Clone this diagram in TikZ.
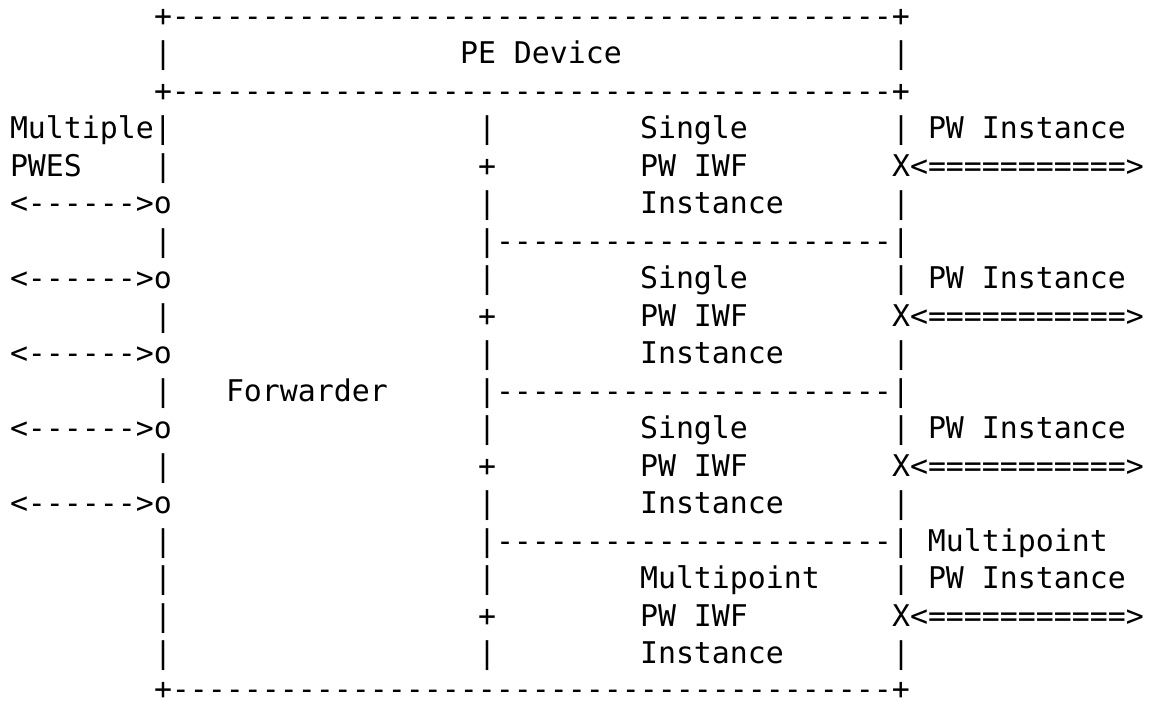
\documentclass[tikz,border=0pt]{standalone}
\usepackage{fontspec}
\setmonofont{DejaVu Sans Mono}
\tikzset{
  txt/.style={anchor=base west, inner sep=0pt, outer sep=0pt,
    font=\ttfamily\fontsize{22.42pt}{28pt}\selectfont, text=black}
}
\newcommand\putcell[4]{\node[txt] (#1) at ({10+18*#2},{26+37.5*#3}) {#4};}
\begin{document}
\begin{tikzpicture}[x=0.75pt,y=-0.75pt]
\useasboundingbox[fill=white] (0,0) rectangle (1156,704);
% top box
\putcell{topb}{8}{0}{+----------------------------------------+}
\putcell{pel}{8}{1}{|}
\putcell{pe}{25}{1}{PE Device}
\putcell{per}{49}{1}{|}
\putcell{midb}{8}{2}{+----------------------------------------+}
% row 3-5
\putcell{mult}{0}{3}{Multiple|}
\putcell{c3}{26}{3}{|}
\putcell{s1a}{35}{3}{Single}
\putcell{pw1}{49}{3}{| PW Instance}
\putcell{pwes}{0}{4}{PWES}
\putcell{l4}{8}{4}{|}
\putcell{c4}{26}{4}{+}
\putcell{s1b}{35}{4}{PW IWF}
\putcell{x1}{49}{4}{X<===========>}
\putcell{a1}{0}{5}{<------>o}
\putcell{c5}{26}{5}{|}
\putcell{s1c}{35}{5}{Instance}
\putcell{r5}{49}{5}{|}
% row 6
\putcell{l6}{8}{6}{|}
\putcell{sep1}{26}{6}{|----------------------|}
% row 7-9
\putcell{a2}{0}{7}{<------>o}
\putcell{c7}{26}{7}{|}
\putcell{s2a}{35}{7}{Single}
\putcell{pw2}{49}{7}{| PW Instance}
\putcell{l8}{8}{8}{|}
\putcell{c8}{26}{8}{+}
\putcell{s2b}{35}{8}{PW IWF}
\putcell{x2}{49}{8}{X<===========>}
\putcell{a3}{0}{9}{<------>o}
\putcell{c9}{26}{9}{|}
\putcell{s2c}{35}{9}{Instance}
\putcell{r9}{49}{9}{|}
% row 10
\putcell{l10}{8}{10}{|}
\putcell{fwd}{12}{10}{Forwarder}
\putcell{sep2}{26}{10}{|----------------------|}
% row 11-13
\putcell{a4}{0}{11}{<------>o}
\putcell{c11}{26}{11}{|}
\putcell{s3a}{35}{11}{Single}
\putcell{pw3}{49}{11}{| PW Instance}
\putcell{l12}{8}{12}{|}
\putcell{c12}{26}{12}{+}
\putcell{s3b}{35}{12}{PW IWF}
\putcell{x3}{49}{12}{X<===========>}
\putcell{a5}{0}{13}{<------>o}
\putcell{c13}{26}{13}{|}
\putcell{s3c}{35}{13}{Instance}
\putcell{r13}{49}{13}{|}
% row 14
\putcell{l14}{8}{14}{|}
\putcell{sep3}{26}{14}{|----------------------| Multipoint}
% row 15-17
\putcell{l15}{8}{15}{|}
\putcell{c15}{26}{15}{|}
\putcell{s4a}{35}{15}{Multipoint}
\putcell{pw4}{49}{15}{| PW Instance}
\putcell{l16}{8}{16}{|}
\putcell{c16}{26}{16}{+}
\putcell{s4b}{35}{16}{PW IWF}
\putcell{x4}{49}{16}{X<===========>}
\putcell{l17}{8}{17}{|}
\putcell{c17}{26}{17}{|}
\putcell{s4c}{35}{17}{Instance}
\putcell{r17}{49}{17}{|}
% bottom
\node[txt, text depth=0pt] (botb) at ({10+18*8},{24+37.5*18}) {+----------------------------------------+};
\end{tikzpicture}
\end{document}
